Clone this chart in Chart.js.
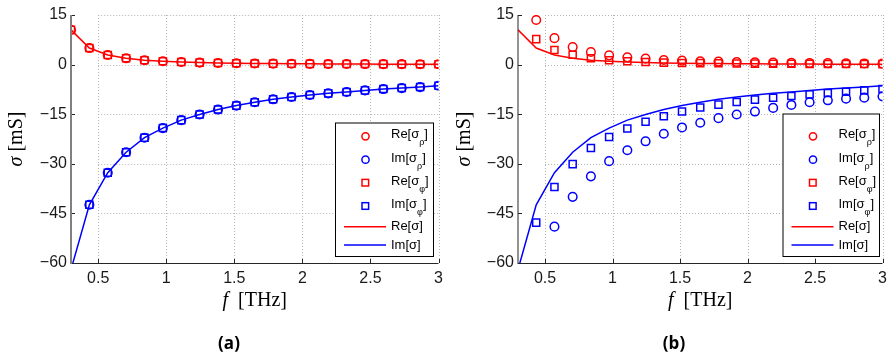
<!DOCTYPE html>
<html>
<head>
<meta charset="utf-8">
<script src="https://cdn.jsdelivr.net/npm/chart.js@4"></script>
<style>
  body { margin: 0; background: #fff; overflow: hidden; }
  #wrap { position: relative; width: 889px; height: 356px; }
  .panel { position: absolute; top: 0; height: 356px; }
</style>
</head>
<body>
<div id="wrap">
  <div class="panel" style="left:0;width:445px"><canvas id="chartA"></canvas></div>
  <div class="panel" style="left:445px;width:444px"><canvas id="chartB"></canvas></div>
</div>
<script>
// frequency samples [THz]
const freq = [0.3, 0.435, 0.57, 0.705, 0.84, 0.975, 1.11, 1.245, 1.38, 1.515, 1.65,
              1.785, 1.92, 2.055, 2.19, 2.325, 2.46, 2.595, 2.73, 2.865, 3.0];

// analytic sigma (solid lines, same in both panels) [mS]
const reSigma = [10.5, 5.0, 2.9, 1.9, 1.3, 1.0, 0.8, 0.6, 0.5, 0.4, 0.35,
                 0.3, 0.26, 0.22, 0.2, 0.17, 0.16, 0.14, 0.13, 0.12, 0.1];
const imSigma = [-62, -42.4, -32.7, -26.5, -22.1, -19.2, -16.8, -15.1, -13.6, -12.4, -11.4,
                 -10.5, -9.8, -9.2, -8.7, -8.3, -7.8, -7.4, -7.1, -6.8, -6.4];

// panel (b) extracted sigma_rho / sigma_phi (null = off the plot)
const reRhoB = [null, 13.5, 8.0, 5.3, 3.8, 2.8, 2.2, 1.8, 1.4, 1.2, 1.0,
                0.9, 0.8, 0.7, 0.6, 0.55, 0.5, 0.45, 0.4, 0.35, 0.3];
const imRhoB = [null, null, -49, -40, -33.8, -29.2, -25.9, -23.2, -20.9, -19.0, -17.6,
                -16.2, -15.1, -14.2, -13.1, -12.2, -11.4, -10.8, -10.3, -10.0, -9.6];
const rePhiB = [null, 7.7, 4.4, 3.0, 1.9, 1.3, 1.0, 0.8, 0.6, 0.5, 0.45,
                0.4, 0.35, 0.3, 0.28, 0.25, 0.22, 0.2, 0.18, 0.16, 0.15];
const imPhiB = [null, -47.8, -37, -30.1, -25.2, -21.9, -19.3, -17.3, -15.6, -14.2, -13.0,
                -12.1, -11.3, -10.6, -10.0, -9.5, -9.0, -8.6, -8.2, -7.8, -7.4];

const xTicks = [0.5, 1, 1.5, 2, 2.5, 3];
const yTicks = [-60, -45, -30, -15, 0, 15];

const RED = '#ff0000';
const BLUE = '#0000ff';
const TICK_FONT = { family: '"Liberation Sans", Arial, sans-serif', size: 16 };

function pts(ys) {
  return freq.map((f, i) => ({ x: f, y: ys[i] }));
}

function markers(label, ys, color, style) {
  return {
    label: label, data: pts(ys), showLine: false,
    pointStyle: style, pointRadius: style === 'rect' ? 5 : 4.3,
    pointBorderWidth: 1.5, borderColor: color, backgroundColor: 'transparent',
    pointBackgroundColor: 'transparent'
  };
}

function curve(label, ys, color) {
  return {
    label: label, data: pts(ys), borderColor: color, borderWidth: 1.5,
    pointRadius: 0, tension: 0, legendLine: true
  };
}

// MATLAB-ish frame: dotted grid, inward ticks, axis lines, boxed legend, titles
const frame = {
  id: 'frame',
  beforeDatasetsDraw(chart, args, opts) {
    const { ctx, chartArea: a, scales: { x, y } } = chart;
    ctx.save();
    ctx.strokeStyle = '#b4b4b4';
    ctx.lineWidth = 1;
    ctx.setLineDash([1, 2]);
    xTicks.forEach(v => {
      const px = Math.round(x.getPixelForValue(v)) + 0.5;
      ctx.beginPath(); ctx.moveTo(px, a.top); ctx.lineTo(px, a.bottom); ctx.stroke();
    });
    const gx = x.getPixelForValue(xTicks[0]);
    yTicks.slice(1).forEach(v => {
      const py = Math.round(y.getPixelForValue(v)) + 0.5;
      ctx.beginPath(); ctx.moveTo(gx, py); ctx.lineTo(a.right, py); ctx.stroke();
    });
    ctx.restore();
  },
  afterDatasetsDraw(chart, args, opts) {
    const { ctx, chartArea: a, scales: { x, y } } = chart;
    ctx.save();
    // axes
    ctx.setLineDash([]);
    ctx.strokeStyle = '#262626';
    ctx.lineWidth = 1;
    ctx.beginPath(); ctx.moveTo(a.left, a.bottom + 0.5); ctx.lineTo(a.right, a.bottom + 0.5); ctx.stroke();
    xTicks.forEach(v => {
      const px = Math.round(x.getPixelForValue(v)) + 0.5;
      ctx.beginPath(); ctx.moveTo(px, a.bottom); ctx.lineTo(px, a.bottom - 4); ctx.stroke();
    });
    yTicks.forEach(v => {
      const py = Math.round(y.getPixelForValue(v)) + 0.5;
      ctx.beginPath(); ctx.moveTo(a.left, py); ctx.lineTo(a.left + 4, py); ctx.stroke();
    });
    ctx.strokeStyle = opts.leftColor;
    ctx.lineWidth = opts.leftWidth;
    ctx.beginPath(); ctx.moveTo(a.left, a.top); ctx.lineTo(a.left, a.bottom + 1); ctx.stroke();

    // legend
    const L = opts.legend;
    ctx.fillStyle = '#fff';
    ctx.fillRect(L.left, L.top, L.right - L.left, L.bottom - L.top);
    ctx.strokeStyle = '#000';
    ctx.lineWidth = 1;
    ctx.strokeRect(L.left + 0.5, L.top + 0.5, L.right - L.left, L.bottom - L.top);
    const rows = [136.3, 159.7, 182.7, 206, 226.7, 245];
    chart.data.datasets.forEach((ds, i) => {
      const ry = rows[i];
      ctx.strokeStyle = ds.borderColor;
      ctx.lineWidth = 1.5;
      if (ds.legendLine) {
        ctx.beginPath(); ctx.moveTo(L.left + 9, ry); ctx.lineTo(L.left + 51, ry); ctx.stroke();
      } else if (ds.pointStyle === 'rect') {
        ctx.strokeRect(L.left + 27, ry - 3.3, 6.6, 6.6);
      } else {
        ctx.beginPath(); ctx.arc(L.left + 30.5, ry, 3.6, 0, Math.PI * 2); ctx.stroke();
      }
      const tx = L.left + 56;
      const parts = ds.label.split('_');
      ctx.fillStyle = '#000';
      ctx.textBaseline = 'middle';
      ctx.textAlign = 'left';
      ctx.font = '13px "Liberation Sans", Arial, sans-serif';
      if (parts.length === 1) {
        ctx.fillText(parts[0], tx, ry);
      } else {
        ctx.fillText(parts[0], tx, ry - 1.5);
        let w = ctx.measureText(parts[0]).width;
        ctx.font = '9px "Liberation Sans", Arial, sans-serif';
        ctx.fillText(parts[1][0], tx + w, ry + 6.5);
        w += ctx.measureText(parts[1][0]).width;
        ctx.font = '13px "Liberation Sans", Arial, sans-serif';
        ctx.fillText(parts[1].slice(1), tx + w, ry - 1.5);
      }
    });

    // axis titles
    ctx.fillStyle = '#000';
    ctx.textBaseline = 'alphabetic';
    const it = 'italic 20px "Liberation Serif", "DejaVu Serif", serif';
    const rm = '20px "Liberation Serif", "DejaVu Serif", serif';
    function mixed(a1, b1, cx, cy) {
      ctx.font = it; const w1 = ctx.measureText(a1).width;
      ctx.font = rm; const w2 = ctx.measureText(b1).width;
      let sx = cx - (w1 + w2) / 2;
      ctx.textAlign = 'left';
      ctx.font = it; ctx.fillText(a1, sx, cy);
      ctx.font = rm; ctx.fillText(b1, sx + w1, cy);
    }
    mixed('f', '  [THz]', (a.left + a.right) / 2, 306);
    ctx.save();
    ctx.translate(opts.yTitleX, (a.top + a.bottom) / 2);
    ctx.rotate(-Math.PI / 2);
    mixed('σ', ' [mS]', 0, 0);
    ctx.restore();

    // panel caption
    ctx.font = 'bold 17px "Open Sans", "DejaVu Sans", sans-serif';
    ctx.textAlign = 'center';
    ctx.fillText(opts.caption, opts.captionX, 349);
    ctx.restore();
  }
};

function makeChart(id, datasets, yWidth, padRight, fopts) {
  return new Chart(document.getElementById(id), {
    type: 'line',
    data: { datasets: datasets },
    plugins: [frame],
    options: {
      responsive: true,
      maintainAspectRatio: false,
      animation: false,
      layout: { padding: { top: 15, right: padRight, left: 0, bottom: 0 } },
      plugins: { legend: { display: false }, tooltip: { enabled: false }, frame: fopts },
      scales: {
        x: {
          type: 'linear', min: 0.3, max: 3,
          afterBuildTicks: s => { s.ticks = xTicks.map(v => ({ value: v })); },
          afterFit: s => { s.height = 93; s.paddingLeft = 0; s.paddingRight = 0; },
          grid: { display: false, drawTicks: false },
          border: { display: false },
          ticks: { font: TICK_FONT, color: '#1a1a1a', padding: 6, maxRotation: 0,
                   callback: v => String(v) }
        },
        y: {
          min: -60, max: 15,
          afterBuildTicks: s => { s.ticks = yTicks.map(v => ({ value: v })); },
          afterFit: s => { s.width = yWidth; },
          grid: { display: false, drawTicks: false },
          border: { display: false },
          ticks: { font: TICK_FONT, color: '#1a1a1a', padding: 4,
                   callback: v => v < 0 ? '\u2212' + Math.abs(v) : String(v) }
        }
      }
    }
  });
}

// (a): sampled values sit on the analytic curves
makeChart('chartA', [
  markers('Re[σ_ρ]', reSigma, RED, 'circle'),
  markers('Im[σ_ρ]', imSigma, BLUE, 'circle'),
  markers('Re[σ_φ]', reSigma, RED, 'rect'),
  markers('Im[σ_φ]', imSigma, BLUE, 'rect'),
  curve('Re[σ]', reSigma, RED),
  curve('Im[σ]', imSigma, BLUE)
], 71, 5, {
  leftColor: '#808080', leftWidth: 2, yTitleX: 22, caption: '(a)', captionX: 229,
  legend: { left: 335, top: 122.5, right: 433, bottom: 256 }
});

makeChart('chartB', [
  markers('Re[σ_ρ]', reRhoB, RED, 'circle'),
  markers('Im[σ_ρ]', imRhoB, BLUE, 'circle'),
  markers('Re[σ_φ]', rePhiB, RED, 'rect'),
  markers('Im[σ_φ]', imPhiB, BLUE, 'rect'),
  curve('Re[σ]', reSigma, RED),
  curve('Im[σ]', imSigma, BLUE)
], 73, 4, {
  leftColor: '#262626', leftWidth: 1, yTitleX: 25, caption: '(b)', captionX: 229,
  legend: { left: 337.5, top: 113.5, right: 434, bottom: 256 }
});
</script>
</body>
</html>
